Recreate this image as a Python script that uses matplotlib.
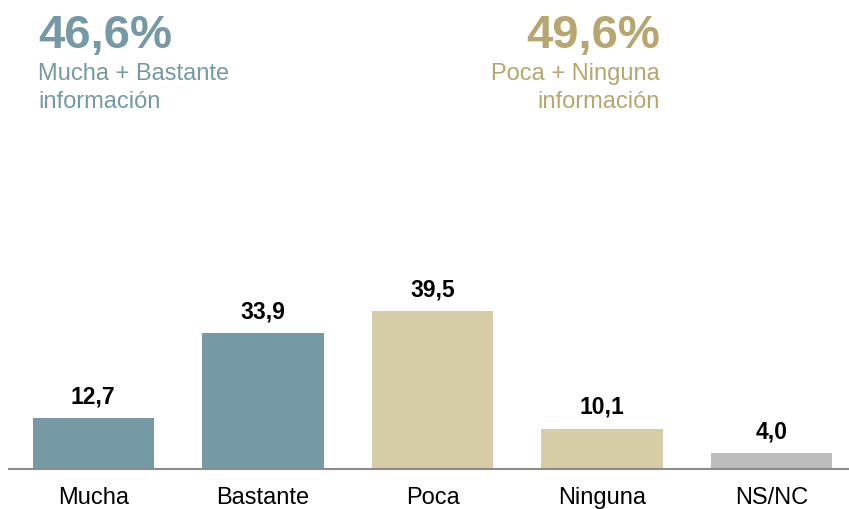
import matplotlib.pyplot as plt

plt.rcParams['font.family'] = ['Liberation Sans', 'DejaVu Sans']

# ─────────── datos ───────────
categorias = ["Mucha", "Bastante", "Poca", "Ninguna", "NS/NC"]
valores = [12.7, 33.9, 39.5, 10.1, 4.0]
colores = ["#7599A5", "#7599A5", "#D6CDA7", "#D6CDA7", "#BDBDBD"]

total_mucha = "46,6%"
total_poca = "49,6%"

TEAL = "#7599A5"
GOLD = "#B8A66F"

W, H = 849, 510
fig = plt.figure(figsize=(W / 100, H / 100), dpi=100)

# eje: línea base en y=470 px, 4 px por unidad
ax = fig.add_axes([8.5 / W, (H - 470) / H, 848 / W, 200 / H])
x = range(len(categorias))
bars = ax.bar(x, valores, width=0.715, color=colores)
ax.set_xlim(-0.5, 4.5)
ax.set_ylim(0, 50)

for b, v in zip(bars, valores):
    ax.annotate(f"{v:.1f}".replace(".", ","),
                (b.get_x() + b.get_width() / 2, v),
                xytext=(0, 11.5), textcoords="offset points",
                ha="center", va="baseline", fontsize=16.5, fontweight="bold")

ax.set_xticks(list(x))
ax.set_xticklabels(categorias, fontsize=17)
ax.tick_params(axis="x", length=0, pad=12.5)
ax.set_yticks([])
for s in ["top", "right", "left"]:
    ax.spines[s].set_visible(False)
ax.spines["bottom"].set_color("#8C8C8C")
ax.spines["bottom"].set_linewidth(1.5)

# ─────────── totales ───────────
def fy(py):
    return 1 - py / H

fig.text(38 / W, fy(48), total_mucha, color=TEAL, fontsize=34, fontweight="bold",
         ha="left", va="baseline")
fig.text(38 / W, fy(80), "Mucha + Bastante", color=TEAL, fontsize=17,
         ha="left", va="baseline")
fig.text(38 / W, fy(108), "información", color=TEAL, fontsize=17,
         ha="left", va="baseline")

fig.text(660 / W, fy(48), total_poca, color=GOLD, fontsize=34, fontweight="bold",
         ha="right", va="baseline")
fig.text(660 / W, fy(80), "Poca + Ninguna", color=GOLD, fontsize=17,
         ha="right", va="baseline")
fig.text(660 / W, fy(108), "información", color=GOLD, fontsize=17,
         ha="right", va="baseline")

fig.savefig("out.png", dpi=100)
